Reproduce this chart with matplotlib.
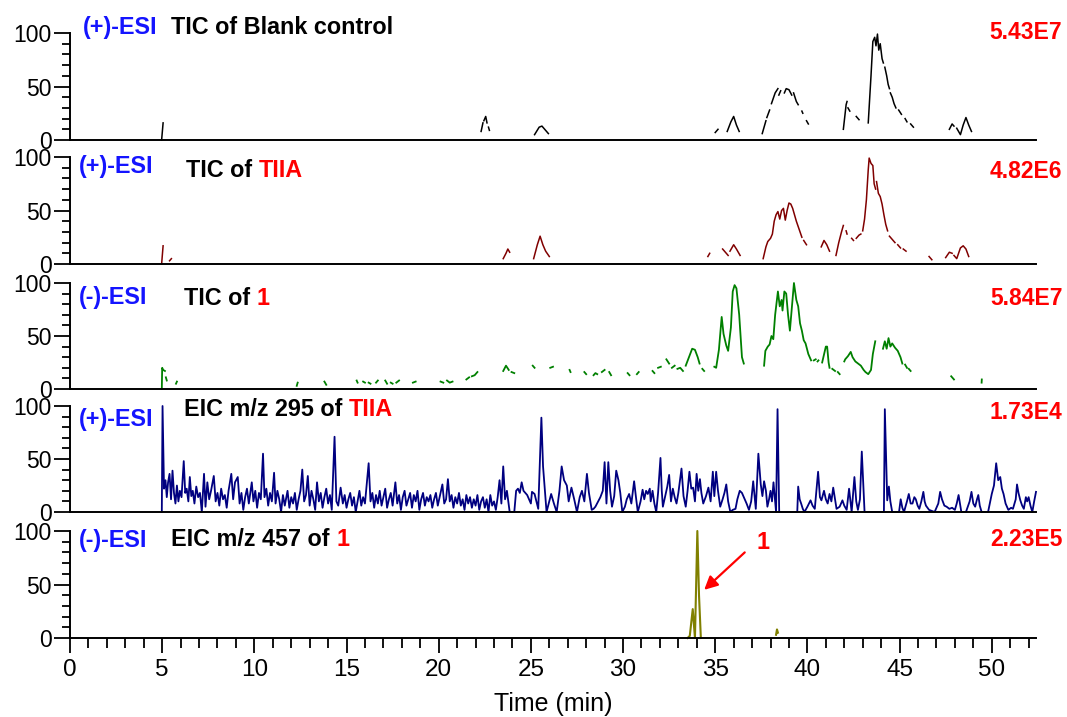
import numpy as np
import matplotlib
matplotlib.use("Agg")
import matplotlib.pyplot as plt
from matplotlib.ticker import MultipleLocator

plt.rcParams['font.family'] = ['Liberation Sans', 'DejaVu Sans']

# time axis (min)
x_max = 52.4

# panel labels, top to bottom
modes = ['(+)-ESI', '(+)-ESI', '(-)-ESI', '(+)-ESI', '(-)-ESI']
titles = ['TIC of Blank control', 'TIC of ', 'TIC of ', 'EIC m/z 295 of ', 'EIC m/z 457 of ']
titles_red = ['', 'TIIA', '1', 'TIIA', '1']
scales = ['5.43E7', '4.82E6', '5.84E7', '1.73E4', '2.23E5']
colors = ['black', '#800000', '#008000', '#000080', '#808000']

# chromatograms as broken segments of (time, relative abundance)
blank_tic = [
    [(4.97, 0), (5.05, 16)],
    [(22.3, 8), (22.4, 16)], [(22.45, 18), (22.55, 22), (22.62, 16)], [(22.7, 12), (22.75, 9)],
    [(25.2, 5), (25.45, 12), (25.6, 13), (25.95, 6)],
    [(35.0, 7), (35.15, 10)],
    [(35.65, 8), (35.85, 17), (36.0, 22), (36.15, 14), (36.3, 8)],
    [(37.55, 6), (37.75, 18)], [(37.8, 21), (37.95, 28)], [(38.05, 34), (38.25, 44), (38.4, 48)],
    [(38.45, 42), (38.55, 46)], [(38.75, 44), (38.85, 48), (39.0, 47), (39.15, 42)],
    [(39.25, 44), (39.4, 36), (39.5, 33)], [(39.7, 27), (39.75, 25)], [(39.95, 18), (40.05, 15)],
    [(41.95, 10), (42.1, 33), (42.15, 36)], [(42.2, 30), (42.3, 27)], [(42.65, 22), (42.8, 19)],
    [(43.3, 16), (43.45, 60), (43.55, 92), (43.65, 96), (43.72, 88), (43.8, 99), (43.87, 84),
     (43.95, 90), (44.05, 76), (44.12, 72)],
    [(44.2, 68), (44.3, 60), (44.38, 52), (44.45, 48)],
    [(44.5, 44), (44.6, 40), (44.7, 34), (44.8, 30)],
    [(44.95, 28), (45.1, 24)], [(45.3, 20), (45.4, 17)], [(45.6, 15), (45.75, 12)],
    [(47.7, 10), (47.85, 15), (47.95, 13)],
    [(48.1, 11), (48.3, 5), (48.45, 14), (48.6, 21), (48.75, 14), (48.9, 8)],
]

tiia_tic = [
    [(4.97, 0), (5.05, 17)], [(5.4, 3), (5.5, 5)],
    [(23.5, 5), (23.65, 10), (23.75, 14), (23.85, 11)],
    [(25.15, 5), (25.35, 18), (25.5, 26), (25.65, 18), (25.8, 12), (26.0, 7)],
    [(34.6, 7), (34.7, 10)],
    [(35.4, 14), (35.55, 11), (35.7, 8)], [(35.8, 12), (36.0, 18), (36.15, 14), (36.35, 8)],
    [(37.6, 5), (37.75, 16), (37.85, 21), (38.0, 24), (38.1, 28), (38.2, 40), (38.3, 46),
     (38.4, 49), (38.5, 42), (38.6, 50), (38.7, 52), (38.8, 41), (38.9, 50), (39.0, 57),
     (39.1, 56), (39.2, 52), (39.3, 46), (39.4, 40), (39.5, 35), (39.6, 30), (39.7, 25)],
    [(39.8, 22), (39.95, 18)],
    [(40.75, 16), (40.9, 22), (41.05, 18), (41.2, 12)],
    [(41.55, 8), (41.7, 20), (41.85, 30), (41.95, 36)], [(42.1, 31), (42.15, 28)],
    [(42.4, 24), (42.5, 22)], [(42.65, 24), (42.8, 27), (42.9, 28)],
    [(43.0, 31), (43.1, 42), (43.2, 60), (43.3, 88), (43.35, 99), (43.45, 94), (43.55, 92),
     (43.62, 75), (43.7, 70)],
    [(43.75, 77), (43.85, 66), (43.95, 63), (44.05, 56), (44.15, 46), (44.25, 37), (44.35, 31)],
    [(44.45, 26), (44.6, 23), (44.75, 20)], [(44.9, 18), (45.05, 15)], [(45.2, 14), (45.35, 12)],
    [(46.6, 7), (46.75, 4)],
    [(47.5, 6), (47.7, 11), (47.85, 10)],
    [(47.95, 8), (48.1, 5), (48.3, 15), (48.45, 17), (48.6, 14), (48.75, 7)],
]

cpd1_tic = [
    [(4.98, 0), (5.0, 20), (5.05, 18), (5.15, 17)], [(5.2, 11), (5.25, 8)], [(5.75, 5), (5.8, 7)],
    [(12.3, 3), (12.35, 6)], [(13.8, 7), (13.9, 4)],
    [(15.55, 8), (15.6, 6)], [(15.9, 7), (16.0, 6)], [(16.2, 6), (16.3, 5)], [(16.6, 6), (16.7, 8)],
    [(17.1, 8), (17.2, 5)], [(17.4, 6), (17.5, 5)], [(17.7, 6), (17.85, 8)], [(18.6, 6), (18.75, 7)],
    [(20.1, 7), (20.25, 6)], [(20.45, 8), (20.6, 6), (20.75, 7)],
    [(21.5, 9), (21.65, 11)], [(21.8, 12), (21.95, 13), (22.1, 16)],
    [(23.5, 17), (23.65, 22), (23.8, 18)], [(23.95, 16), (24.1, 15)],
    [(25.1, 22), (25.2, 20)], [(26.05, 20), (26.2, 21)], [(27.1, 18), (27.15, 16)],
    [(27.9, 16), (28.0, 14)], [(28.4, 13), (28.5, 15), (28.6, 14)], [(28.85, 16), (29.0, 18)],
    [(29.25, 16), (29.35, 13)], [(30.25, 15), (30.35, 13)], [(30.75, 14), (30.85, 16)],
    [(31.6, 17), (31.7, 15)], [(31.9, 20), (32.05, 21)], [(32.35, 28), (32.5, 24)],
    [(32.65, 20), (32.8, 22)], [(32.95, 19), (33.1, 20), (33.25, 17)],
    [(33.4, 22), (33.6, 31), (33.75, 38), (33.9, 37), (34.05, 30), (34.15, 24)],
    [(34.3, 19), (34.4, 17)],
    [(34.95, 21), (35.05, 20), (35.2, 37), (35.35, 68), (35.45, 52), (35.6, 41), (35.7, 36),
     (35.85, 58), (35.95, 92), (36.05, 98), (36.15, 95), (36.3, 70), (36.45, 30), (36.55, 24)],
    [(37.65, 22), (37.72, 36), (37.85, 40), (37.95, 42), (38.05, 50), (38.15, 47), (38.25, 70),
     (38.4, 92), (38.5, 78), (38.6, 84), (38.65, 74), (38.75, 92), (38.85, 90), (38.95, 70),
     (39.05, 55), (39.15, 75), (39.27, 100), (39.4, 84), (39.5, 78), (39.6, 62), (39.7, 55),
     (39.8, 46), (39.9, 43), (40.05, 33), (40.2, 27)],
    [(40.35, 27), (40.45, 28)], [(40.55, 26), (40.6, 27)],
    [(40.8, 25), (41.0, 40), (41.07, 40), (41.15, 25), (41.2, 20)],
    [(41.35, 19), (41.5, 17)], [(41.65, 16), (41.75, 14)],
    [(42.0, 26), (42.05, 28), (42.2, 31), (42.35, 35), (42.45, 30), (42.6, 26), (42.75, 24),
     (42.9, 22), (43.05, 18), (43.15, 16), (43.3, 14), (43.45, 18), (43.55, 33), (43.68, 45)],
    [(44.1, 38), (44.2, 45), (44.3, 38), (44.4, 48), (44.5, 40), (44.6, 43), (44.75, 39),
     (44.9, 36), (45.05, 30), (45.15, 24)],
    [(45.3, 23), (45.4, 20)], [(45.5, 19), (45.6, 17)],
    [(47.8, 12), (47.95, 9)], [(49.45, 6), (49.46, 9)],
]

# EIC m/z 295, (+)-ESI, continuous noisy trace
eic295 = [[
    (4.98, 0), (5.02, 100), (5.1, 22), (5.18, 30), (5.25, 14), (5.32, 28), (5.4, 36), (5.48, 12),
    (5.56, 39), (5.64, 18), (5.72, 8), (5.8, 25), (5.88, 10), (5.96, 20), (6.05, 14), (6.17, 48),
    (6.25, 18), (6.33, 22), (6.42, 10), (6.5, 33), (6.58, 15), (6.66, 20), (6.75, 8), (6.85, 24),
    (6.95, 14), (7.05, 18), (7.15, 0), (7.27, 36), (7.35, 5), (7.45, 28), (7.55, 12), (7.65, 20),
    (7.8, 34), (7.9, 10), (8.0, 18), (8.1, 6), (8.2, 22), (8.3, 12), (8.4, 16), (8.5, 4),
    (8.6, 20), (8.75, 36), (8.85, 12), (8.95, 28), (9.1, 33), (9.2, 8), (9.3, 18), (9.4, 2),
    (9.5, 14), (9.6, 22), (9.7, 8), (9.86, 28), (9.95, 10), (10.05, 20), (10.15, 4), (10.25, 18),
    (10.35, 12), (10.47, 55), (10.55, 14), (10.65, 22), (10.75, 6), (10.85, 18), (10.95, 10),
    (11.07, 37), (11.15, 8), (11.25, 20), (11.35, 12), (11.45, 0), (11.55, 16), (11.65, 6),
    (11.8, 20), (11.9, 4), (12.0, 14), (12.1, 8), (12.2, 18), (12.3, 2), (12.4, 12), (12.5, 20),
    (12.6, 40), (12.7, 10), (12.8, 16), (12.9, 34), (13.0, 6), (13.1, 20), (13.2, 12), (13.3, 2),
    (13.4, 28), (13.5, 10), (13.6, 18), (13.7, 4), (13.8, 14), (13.9, 22), (14.0, 8), (14.1, 16),
    (14.2, 2), (14.35, 71), (14.45, 10), (14.55, 6), (14.68, 23), (14.8, 8), (14.9, 16), (15.0, 4),
    (15.1, 12), (15.2, 18), (15.3, 6), (15.4, 14), (15.5, 0), (15.6, 10), (15.7, 20), (15.8, 6),
    (15.9, 14), (16.0, 8), (16.2, 46), (16.3, 10), (16.4, 18), (16.5, 4), (16.6, 16), (16.7, 8),
    (16.8, 20), (16.9, 6), (17.0, 14), (17.1, 22), (17.2, 4), (17.3, 12), (17.4, 18), (17.5, 6),
    (17.65, 28), (17.75, 8), (17.85, 16), (17.95, 2), (18.05, 14), (18.15, 20), (18.25, 6),
    (18.35, 12), (18.45, 18), (18.55, 4), (18.65, 16), (18.75, 10), (18.85, 20), (18.95, 2),
    (19.05, 12), (19.15, 18), (19.25, 6), (19.35, 14), (19.45, 10), (19.55, 16), (19.65, 4),
    (19.75, 12), (19.85, 18), (19.95, 6), (20.05, 14), (20.2, 26), (20.3, 8), (20.4, 12),
    (20.5, 31), (20.6, 10), (20.7, 16), (20.8, 4), (20.9, 14), (21.0, 8), (21.1, 18), (21.2, 6),
    (21.3, 12), (21.4, 2), (21.5, 16), (21.6, 8), (21.7, 14), (21.8, 4), (21.9, 12), (22.0, 6),
    (22.1, 16), (22.2, 2), (22.3, 10), (22.4, 14), (22.5, 4), (22.6, 12), (22.7, 0), (22.8, 16),
    (22.9, 6), (23.0, 10), (23.1, 2), (23.2, 14), (23.3, 30), (23.4, 8), (23.5, 43), (23.6, 12),
    (23.7, 20), (23.85, 0), (24.1, 0), (24.2, 20), (24.3, 22), (24.4, 18), (24.5, 28), (24.6, 20),
    (24.7, 18), (24.8, 16), (24.9, 12), (25.0, 8), (25.06, 19), (25.2, 17), (25.4, 3),
    (25.57, 89), (25.66, 43), (25.85, 0), (26.0, 10), (26.1, 17), (26.25, 8), (26.4, 0),
    (26.55, 20), (26.67, 43), (26.8, 30), (26.95, 25), (27.05, 10), (27.2, 23), (27.35, 12),
    (27.5, 0), (27.65, 14), (27.77, 20), (27.9, 10), (28.04, 36), (28.15, 18), (28.3, 2),
    (28.4, 3), (28.5, 5), (28.65, 10), (28.77, 14), (28.9, 20), (29.0, 47), (29.1, 8), (29.2, 47),
    (29.3, 20), (29.4, 5), (29.52, 15), (29.63, 39), (29.75, 30), (29.85, 18), (29.96, 0),
    (30.1, 5), (30.2, 12), (30.33, 17), (30.45, 8), (30.6, 29), (30.7, 14), (30.8, 0),
    (30.95, 10), (31.06, 21), (31.15, 12), (31.25, 20), (31.34, 17), (31.45, 22), (31.5, 10),
    (31.6, 20), (31.7, 8), (31.8, 0), (31.9, 18), (32.03, 51), (32.1, 20), (32.16, 5),
    (32.3, 16), (32.4, 24), (32.5, 35), (32.6, 10), (32.7, 22), (32.8, 14), (32.9, 8), (33.0, 18),
    (33.17, 41), (33.28, 15), (33.4, 5), (33.5, 20), (33.6, 38), (33.7, 22), (33.8, 23),
    (33.9, 10), (33.99, 36), (34.08, 20), (34.17, 31), (34.25, 18), (34.35, 8), (34.5, 15),
    (34.63, 23), (34.75, 10), (34.87, 38), (34.95, 15), (35.05, 38), (35.15, 20), (35.27, 5),
    (35.4, 12), (35.5, 18), (35.6, 26), (35.7, 10), (35.82, 0), (35.95, 2), (36.1, 3),
    (36.2, 12), (36.33, 20), (36.45, 18), (36.55, 14), (36.7, 8), (36.83, 2), (36.95, 10),
    (37.06, 29), (37.2, 3), (37.34, 55), (37.47, 26), (37.56, 15), (37.65, 29), (37.75, 20),
    (37.83, 5), (37.92, 12), (38.0, 20), (38.08, 10), (38.16, 28), (38.3, 0), (38.38, 97),
    (38.47, 0), (39.45, 0), (39.5, 24), (39.58, 12), (39.66, 8), (39.75, 3), (39.84, 0),
    (40.0, 5), (40.17, 11), (40.28, 6), (40.4, 3), (40.58, 38), (40.68, 14), (40.76, 11),
    (40.9, 20), (41.0, 12), (41.1, 8), (41.2, 17), (41.3, 10), (41.4, 23), (41.5, 12),
    (41.58, 3), (41.75, 5), (41.9, 11), (42.0, 6), (42.13, 2), (42.26, 22), (42.35, 8),
    (42.4, 0), (42.55, 33), (42.65, 10), (42.74, 2), (42.85, 12), (42.95, 57), (43.1, 0),
    (44.15, 0), (44.2, 97), (44.33, 11), (44.42, 24), (44.5, 10), (44.6, 0), (44.97, 0),
    (45.06, 12), (45.15, 4), (45.24, 0), (45.4, 10), (45.5, 17), (45.6, 8), (45.7, 8),
    (45.8, 14), (45.88, 12), (45.98, 6), (46.07, 3), (46.18, 10), (46.29, 19), (46.36, 10),
    (46.43, 6), (46.6, 2), (46.9, 0), (47.1, 8), (47.2, 19), (47.3, 12), (47.43, 6), (47.55, 5),
    (47.7, 3), (47.85, 4), (48.0, 2), (48.1, 8), (48.2, 16), (48.35, 0), (48.6, 0), (48.8, 10),
    (48.9, 19), (49.0, 8), (49.1, 5), (49.2, 12), (49.27, 16), (49.35, 6), (49.45, 0),
    (49.8, 0), (50.0, 17), (50.12, 25), (50.24, 46), (50.35, 30), (50.46, 33), (50.55, 22),
    (50.64, 17), (50.75, 8), (50.9, 2), (51.05, 4), (51.15, 3), (51.3, 12), (51.37, 26),
    (51.45, 18), (51.55, 11), (51.65, 6), (51.74, 3), (51.85, 14), (51.92, 10), (52.0, 14),
    (52.1, 6), (52.2, 0), (52.3, 10), (52.4, 19),
]]

# EIC m/z 457, (-)-ESI
eic457 = [
    [(33.5, 0), (33.62, 2), (33.78, 27), (33.9, 0), (34.03, 100), (34.12, 40), (34.22, 0)],
    [(38.3, 3), (38.35, 8), (38.4, 5)],
]

traces = [blank_tic, tiia_tic, cpd1_tic, eic295, eic457]
widths = [1.1, 1.1, 1.3, 1.3, 1.5]


# flatten segments into x, y with nan breaks
def join_segments(segments):
    t, v = [], []
    for seg in segments:
        for a, b in seg:
            t.append(a)
            v.append(b)
        t.append(np.nan)
        v.append(np.nan)
    return t, v


W, H = 1067, 717
fig = plt.figure(figsize=(W / 100, H / 100), dpi=100)

# pixel rows of the 100 and 0 levels for each panel
rows = [(33, 140), (157, 264), (283, 389), (406, 512), (531, 638)]
# text positions in axes fraction: mode, title, scale
mode_pos = [(0.013, 1.056), (0.0088, 0.907), (0.0088, 0.86), (0.0088, 0.87), (0.0088, 0.91)]
title_pos = [(0.1046, 1.056), (0.12, 0.87), (0.118, 0.85), (0.118, 0.965), (0.105, 0.925)]
scale_y = [1.005, 0.86, 0.85, 0.94, 0.925]

left, right = 70, 1036
axes = []
for i in range(5):
    top, bot = rows[i]
    ax = fig.add_axes([left / W, 1 - bot / H, (right - left) / W, (bot - top) / H])
    axes.append(ax)
    t, v = join_segments(traces[i])
    ax.plot(t, v, color=colors[i], lw=widths[i], clip_on=False)
    ax.set_xlim(0, x_max)
    ax.set_ylim(0, 100)
    for s in ['top', 'right']:
        ax.spines[s].set_visible(False)
    for s in ['left', 'bottom']:
        ax.spines[s].set_linewidth(1.4)
    ax.set_yticks([0, 50, 100])
    ax.yaxis.set_minor_locator(MultipleLocator(10))
    ax.tick_params(axis='y', which='major', length=11.5, width=1.3, labelsize=16.5, pad=1.5)
    ax.tick_params(axis='y', which='minor', length=6, width=1.3)
    ax.patch.set_visible(False)

    ax.text(mode_pos[i][0], mode_pos[i][1], modes[i], transform=ax.transAxes,
            color='#1414ff', fontsize=16.8, fontweight='bold', ha='left', va='center')
    txt = ax.text(title_pos[i][0], title_pos[i][1], titles[i], transform=ax.transAxes,
                  color='black', fontsize=16.8, fontweight='bold', ha='left', va='center')
    if titles_red[i]:
        ax.annotate(titles_red[i], xy=(1, 0), xycoords=txt, ha='left', va='bottom',
                    color='red', fontsize=16.8, fontweight='bold')
    ax.text(1.0274, scale_y[i], scales[i], transform=ax.transAxes, color='red',
            fontsize=16.5, fontweight='bold', ha='right', va='center')

    if i < 4:
        ax.tick_params(axis='x', which='both', bottom=False, labelbottom=False)
    else:
        ax.set_xticks(np.arange(0, 51, 5))
        ax.xaxis.set_minor_locator(MultipleLocator(1))
        ax.tick_params(axis='x', which='major', length=11, width=1.3, labelsize=17.5, pad=4)
        ax.tick_params(axis='x', which='minor', length=7.5, width=1.3)
        ax.set_xlabel('Time (min)', fontsize=18, labelpad=8)

# arrow pointing at peak 1
ax = axes[4]
ax.annotate('', xy=(34.4, 45), xytext=(36.6, 80),
            arrowprops=dict(arrowstyle='-|>', color='red', lw=1.6, mutation_scale=20,
                            shrinkA=0, shrinkB=0))
ax.text(37.6, 89, '1', color='red', fontsize=16.8, fontweight='bold', ha='center', va='center')

fig.savefig('out.png', dpi=100)
